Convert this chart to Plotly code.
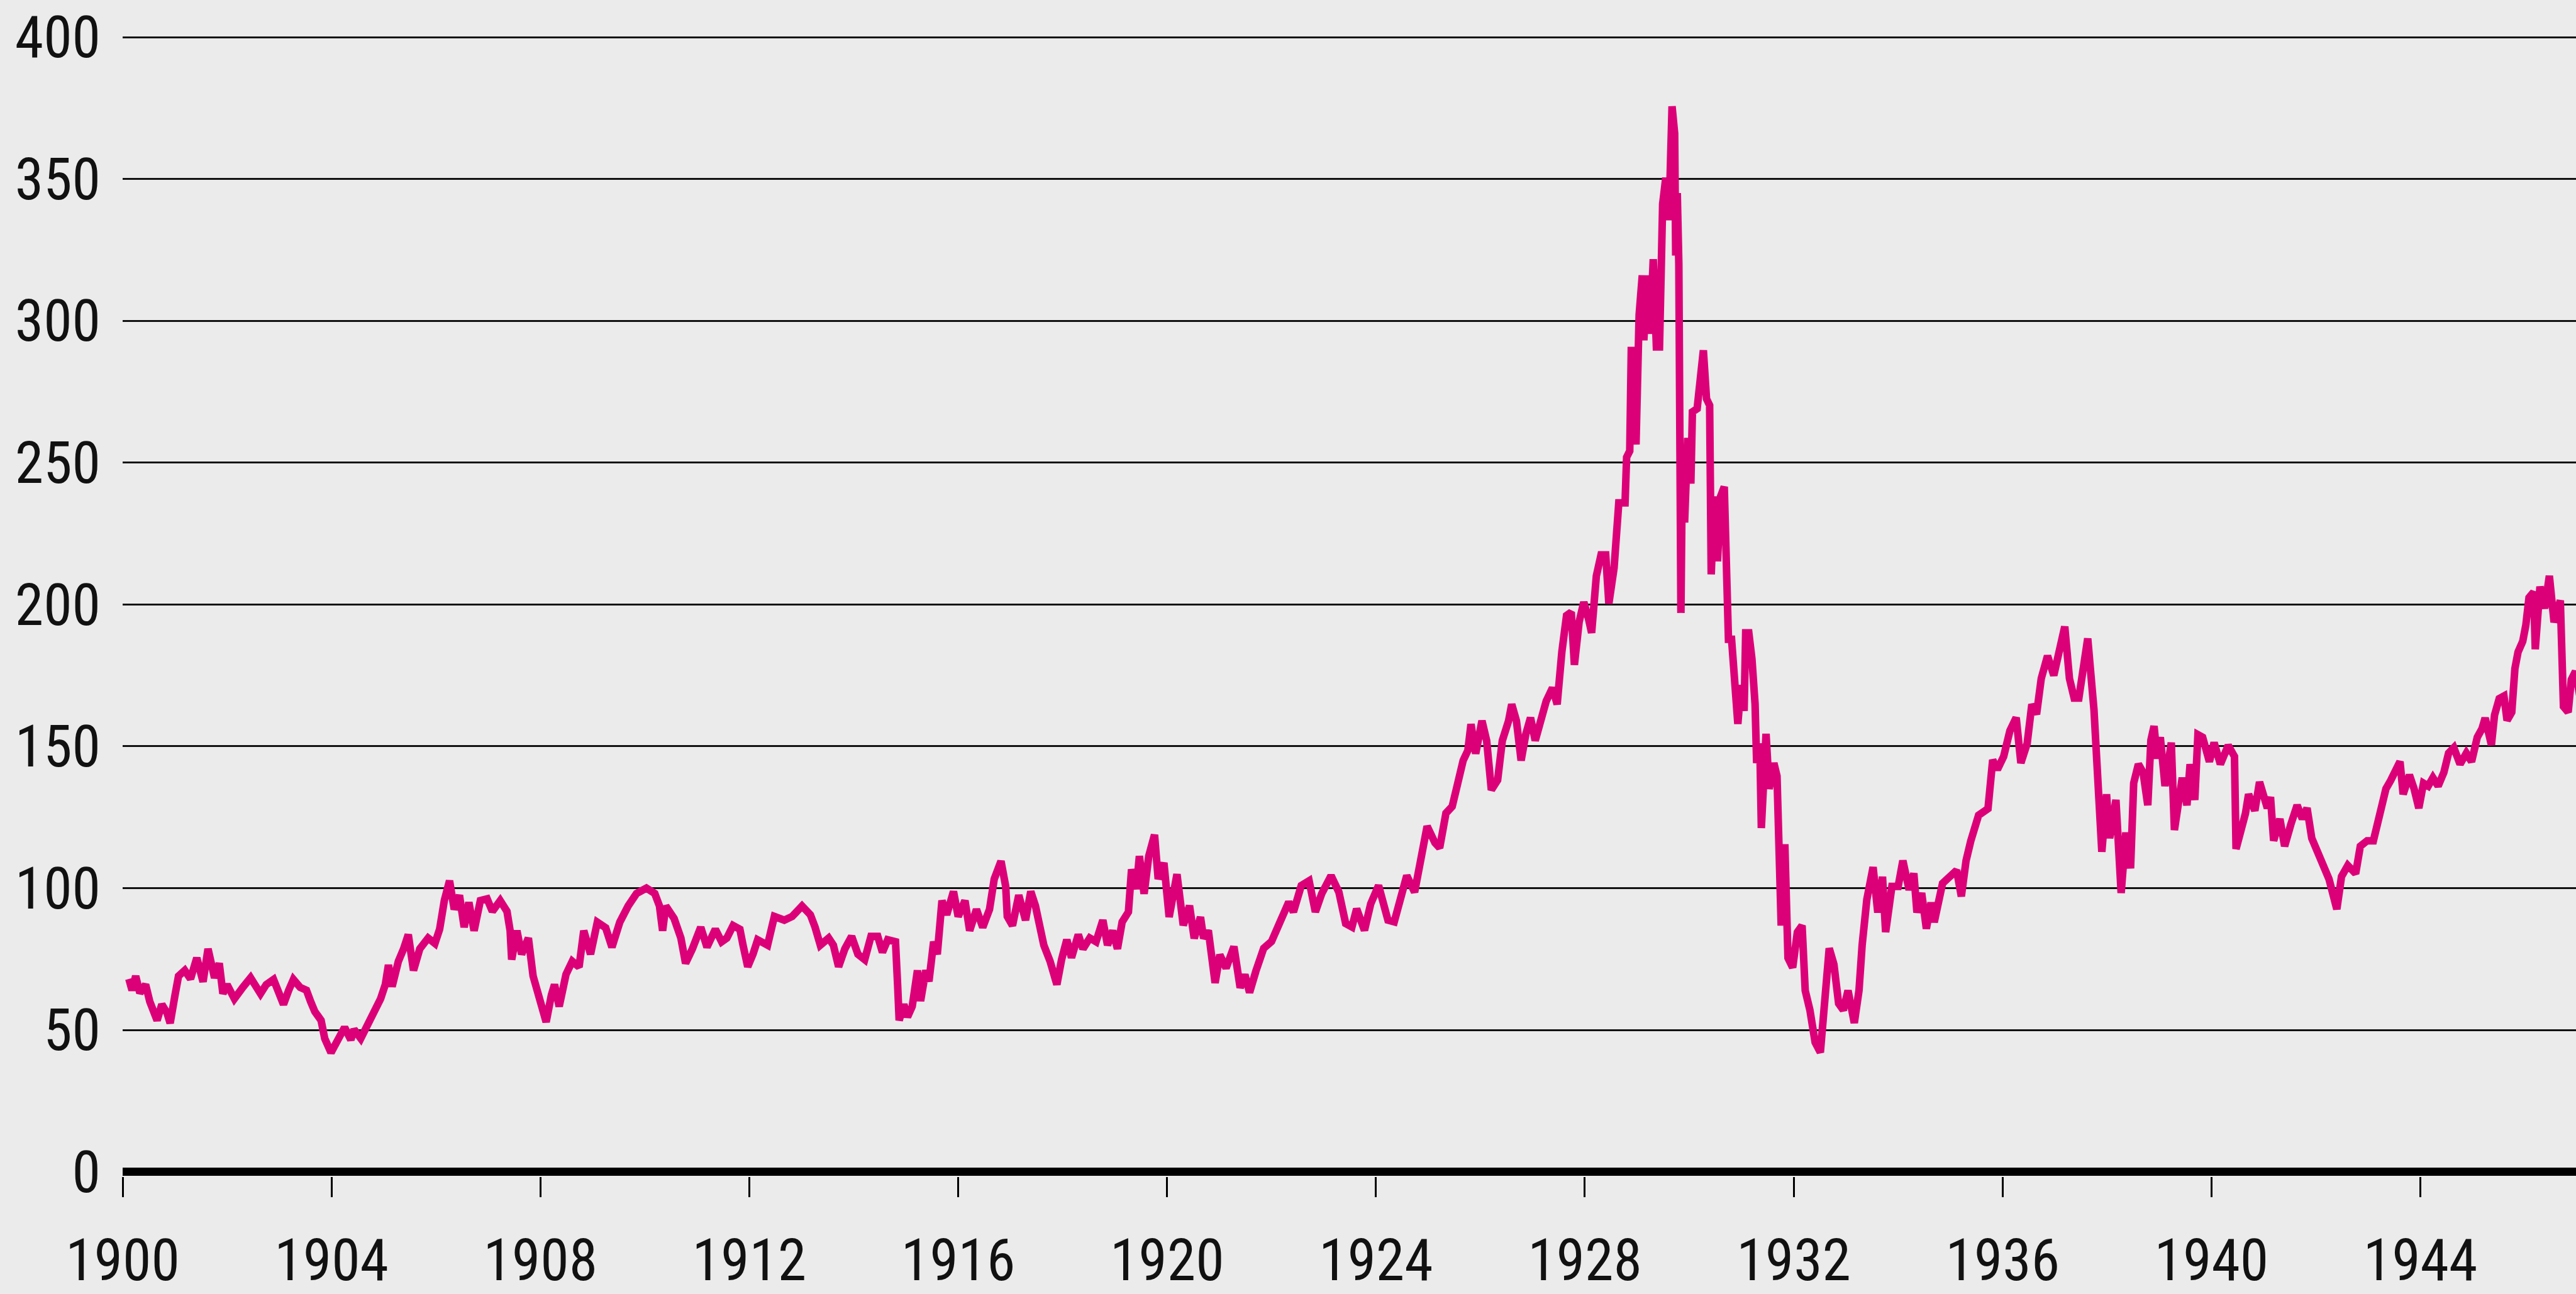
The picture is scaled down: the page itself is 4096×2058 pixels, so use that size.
import subprocess
import plotly.graph_objects as go

# ---- data (decimal year, index level) ----
dates_1900s = [1900.12, 1900.18, 1900.25, 1900.33, 1900.44, 1900.52, 1900.66, 1900.75, 1900.85, 1900.91,
               1901.00, 1901.07, 1901.19, 1901.30, 1901.42, 1901.54, 1901.635, 1901.70, 1901.76, 1901.85,
               1901.92, 1902.00, 1902.14, 1902.30, 1902.45, 1902.64, 1902.75, 1902.89, 1903.00, 1903.08,
               1903.18, 1903.27, 1903.40, 1903.52, 1903.60, 1903.68, 1903.80, 1903.87, 1903.99, 1904.09,
               1904.25, 1904.37, 1904.43, 1904.56, 1904.72, 1904.84, 1904.94, 1905.03, 1905.09, 1905.16,
               1905.28, 1905.38, 1905.47, 1905.57, 1905.69, 1905.85, 1905.98, 1906.07, 1906.16, 1906.26,
               1906.35, 1906.45, 1906.54, 1906.63, 1906.73, 1906.85, 1906.98, 1907.08, 1907.23, 1907.36,
               1907.42, 1907.45, 1907.55, 1907.64, 1907.77, 1907.86, 1907.99, 1908.11, 1908.21, 1908.27,
               1908.36, 1908.49, 1908.61, 1908.74, 1908.83, 1908.96, 1909.09, 1909.25, 1909.37, 1909.52,
               1909.68, 1909.84]
dow_1900s = [68, 64, 69, 63, 66, 60, 53.4, 59, 56, 52.4,
             62, 69, 71, 68, 75.4, 67, 78.6, 72, 68.4, 73.5,
             62.8, 66, 61, 65, 68.4, 62.8, 66, 67.8, 63, 59,
             64, 67.8, 65, 64, 60, 56.5, 53.4, 47, 42, 45,
             50.9, 46.5, 50.2, 47, 52.8, 56.5, 61, 66, 72.9, 65.3,
             74.2, 78.6, 83.6, 71, 78.6, 82.4, 80.5, 85.5, 95.6, 102.6,
             92.5, 97.5, 86.2, 95, 85, 95.6, 96.2, 91.8, 95.6, 91.8,
             85, 74.8, 85, 76.7, 82.4, 69, 61.5, 52.8, 62.3, 66,
             58.3, 69.6, 74.2, 72.2, 85, 76.7, 88, 86, 79.2, 88,
             93.7, 98.1]

dates_1910s = [1910.03, 1910.19, 1910.28, 1910.34, 1910.40, 1910.56, 1910.69, 1910.78, 1910.91,
               1911.07, 1911.19, 1911.35, 1911.47, 1911.57, 1911.69, 1911.82, 1911.88, 1911.97,
               1912.07, 1912.16, 1912.35, 1912.48, 1912.67, 1912.82,
               1913.01, 1913.17, 1913.26, 1913.36, 1913.52, 1913.61, 1913.71, 1913.83, 1913.96,
               1914.08, 1914.21, 1914.33, 1914.46, 1914.55, 1914.65, 1914.80, 1914.84, 1914.87, 1914.96,
               1915.03, 1915.12, 1915.22, 1915.28, 1915.38, 1915.44, 1915.53, 1915.60, 1915.69, 1915.78, 1915.91,
               1916.00, 1916.13, 1916.22, 1916.35, 1916.47, 1916.60, 1916.69, 1916.82, 1916.91, 1916.94,
               1917.04, 1917.16, 1917.29, 1917.39, 1917.48, 1917.57, 1917.64, 1917.76, 1917.89, 1917.98,
               1918.08, 1918.17, 1918.30, 1918.39, 1918.52, 1918.64, 1918.77, 1918.86, 1918.96,
               1919.05, 1919.14, 1919.26, 1919.32, 1919.41, 1919.47, 1919.56, 1919.65, 1919.76, 1919.83, 1919.94]
dow_1910s = [100, 98.1, 93.7, 85, 93.7, 89.3, 82.4, 73.5, 78.6,
             86.2, 79.2, 85.5, 81.1, 82.4, 86.8, 85.5, 79.9, 72.3,
             76.7, 81.8, 79.9, 90, 88.7, 90,
             93.7, 90.6, 86.2, 79.9, 82.4, 79.9, 72.3, 78.6, 83,
             76.7, 74.8, 83, 83, 77.4, 81.8, 81.1, 66, 53.4, 59,
             54.6, 58.3, 71, 60.2, 71, 67.1, 81.1, 76.7, 95.6, 90.6, 98.8,
             90, 95.6, 85, 92.5, 86.2, 92.5, 103.2, 109.5, 100.6, 90,
             86.8, 97.5, 88.7, 98.8, 93.7, 86.2, 79.9, 74.2, 66, 74.8,
             81.8, 75.5, 83.6, 78.6, 82.4, 81.1, 88.7, 79.9, 85,
             78.6, 88.1, 91.6, 106.6, 99.7, 111.3, 98, 111.3, 118.8, 103.2, 108.9]

dates_1920s = [1920.04, 1920.19, 1920.31, 1920.43, 1920.52, 1920.64, 1920.70, 1920.79, 1920.86, 1920.92,
               1921.01, 1921.13, 1921.28, 1921.40, 1921.49, 1921.58, 1921.70, 1921.85,
               1922.00, 1922.18, 1922.33, 1922.42, 1922.57, 1922.72, 1922.84, 1922.96,
               1923.14, 1923.29, 1923.42, 1923.54, 1923.63, 1923.78, 1923.90,
               1924.05, 1924.23, 1924.35, 1924.50, 1924.59, 1924.74, 1924.86, 1924.98,
               1925.13, 1925.22, 1925.34, 1925.46, 1925.55, 1925.67, 1925.76, 1925.82, 1925.91,
               1926.03, 1926.12, 1926.21, 1926.33, 1926.42, 1926.54, 1926.60, 1926.69, 1926.78, 1926.87, 1926.96,
               1927.05, 1927.17, 1927.26, 1927.38, 1927.47, 1927.56, 1927.65, 1927.74, 1927.80, 1927.89, 1927.98,
               1928.07, 1928.13, 1928.22, 1928.31, 1928.40, 1928.46, 1928.56, 1928.65, 1928.77, 1928.80, 1928.86,
               1928.89, 1928.98,
               1929.04, 1929.10, 1929.13, 1929.19, 1929.25, 1929.31, 1929.37, 1929.43, 1929.49, 1929.55, 1929.61,
               1929.67, 1929.72, 1929.74, 1929.77, 1929.80, 1929.82, 1929.84, 1929.86, 1929.88, 1929.91, 1929.97]
dow_1920s = [89.8, 104.9, 86.9, 93.8, 82.3, 89.8, 82.3, 85.1, 73, 66.6,
             76.5, 71.8, 79.4, 64.9, 69.5, 63.2, 70.7, 78.8,
             81.2, 89.3, 95.1, 91.6, 100.9, 102.6, 91.6, 98,
             104.4, 98.6, 87.5, 86.3, 92.7, 85.1, 94.5,
             100.9, 88.7, 88.1, 97.4, 104.4, 98.6, 109.6, 121.8,
             116, 114.2, 126.4, 128.8, 135.7, 145, 148.5, 157.8, 147.4,
             159, 152, 134.6, 138.1, 152, 159, 164.8, 159, 145, 154.3, 160.1,
             152, 160.1, 165.9, 170.6, 164.8, 183.3, 196.1, 197.3, 178.7, 193.8, 200.8,
             195, 190, 210, 217.5, 217.5, 200.3, 212.9, 235.8, 235.8, 251.9, 254.1,
             290.8, 256.4,
             302.2, 316, 293.1, 316, 295.4, 321.7, 290.8, 290.8, 341.2, 350.4, 335.5,
             375.6, 366, 323, 345, 320, 250, 197, 235, 256.4, 228.9, 258.7]

dates_1930s = [1930.03, 1930.06, 1930.15, 1930.21, 1930.27, 1930.33, 1930.39, 1930.42, 1930.48, 1930.54,
               1930.60, 1930.67, 1930.72, 1930.75, 1930.81, 1930.87, 1930.93, 1930.99,
               1931.05, 1931.08, 1931.14, 1931.20, 1931.26, 1931.29, 1931.35, 1931.38, 1931.47, 1931.53,
               1931.62, 1931.68, 1931.71, 1931.76, 1931.83, 1931.89, 1931.98,
               1932.07, 1932.16, 1932.22, 1932.31, 1932.41, 1932.51, 1932.59, 1932.68, 1932.77, 1932.86, 1932.95,
               1933.04, 1933.16, 1933.25, 1933.31, 1933.40, 1933.52, 1933.61, 1933.70, 1933.76, 1933.88,
               1934.00, 1934.09, 1934.21, 1934.30, 1934.36, 1934.45, 1934.54, 1934.63, 1934.69, 1934.85,
               1935.00, 1935.12, 1935.21, 1935.30, 1935.39, 1935.54, 1935.72, 1935.81, 1935.90,
               1936.02, 1936.14, 1936.26, 1936.35, 1936.47, 1936.56, 1936.65, 1936.74, 1936.86, 1936.98,
               1937.10, 1937.19, 1937.28, 1937.37, 1937.46, 1937.55, 1937.63, 1937.75, 1937.81, 1937.87, 1937.90, 1937.99,
               1938.05, 1938.17, 1938.27, 1938.36, 1938.45, 1938.51, 1938.60, 1938.69, 1938.78, 1938.84, 1938.90, 1938.96,
               1939.02, 1939.11, 1939.23, 1939.29, 1939.44, 1939.53, 1939.59, 1939.68, 1939.74, 1939.83, 1939.96]
dow_1930s = [242.6, 267.9, 269, 279.3, 289.6, 272.5, 270.2, 210.6, 238.1, 215.2,
             238.1, 241.5, 210.6, 187.7, 187.7, 170.5, 157.9, 171.6,
             162.5, 190, 190, 180.8, 164.8, 144.1, 151, 121.2, 154.4, 135,
             144.1, 139.5, 114.3, 86.8, 115.5, 75.4, 72,
             84.5, 86.8, 63.9, 57, 45.6, 42.1, 63.9, 78.8, 73.1, 59.3, 57,
             63.9, 52.5, 63.9, 79.9, 96, 107.4, 91.4, 104, 84.5, 100.6,
             100.6, 109.7, 99.4, 105.2, 91.4, 98.3, 85.7, 94.9, 88, 101.7,
             104, 106.3, 97.1, 109.7, 116.6, 125.7, 128, 145.2, 141.8,
             146.4, 155.5, 160.1, 144.1, 151, 164.8, 161.3, 173.9, 181.9, 175,
             186.5, 192.2, 173.9, 167, 167, 180, 188, 162.8, 137.9, 124.4, 112.8, 133.1,
             117.6, 131.1, 98.3, 119.6, 107, 137, 143.7, 140.8, 129.2, 152.2, 157.1, 145.7,
             153.2, 136, 151.3, 120.5, 138.9, 129.2, 143.7, 131.1, 154.1, 153.2, 144.6]

dates_1940s = [1940.05, 1940.17, 1940.32, 1940.44, 1940.47, 1940.56, 1940.65, 1940.71, 1940.83, 1940.92,
               1941.07, 1941.13, 1941.19, 1941.31, 1941.40, 1941.52, 1941.64, 1941.74, 1941.83, 1941.92,
               1942.04, 1942.16, 1942.25, 1942.40, 1942.49, 1942.61, 1942.76, 1942.85, 1942.98,
               1943.10, 1943.19, 1943.28, 1943.34, 1943.43, 1943.52, 1943.61, 1943.67, 1943.79, 1943.88, 1943.97,
               1944.06, 1944.15, 1944.24, 1944.34, 1944.45, 1944.54, 1944.64, 1944.76, 1944.88, 1944.98,
               1945.09, 1945.18, 1945.24, 1945.36, 1945.42, 1945.51, 1945.60, 1945.66, 1945.75, 1945.81, 1945.87, 1945.96,
               1946.02, 1946.08, 1946.17, 1946.20, 1946.29, 1946.38, 1946.47, 1946.56, 1946.68, 1946.71, 1946.74,
               1946.83, 1946.89, 1946.97, 1947.05]
dow_1940s = [151.3, 143.7, 150.3, 146.4, 113.8, 119.6, 126.3, 133.1, 127.3, 137.4,
             128.2, 132.1, 116.7, 124.4, 114.8, 122.5, 129.2, 124.4, 128.2, 117.6,
             112.8, 108, 103.2, 92.6, 104.1, 108, 105.1, 114.8, 116.7,
             116.7, 124.4, 130.2, 135, 137.9, 141.8, 144.6, 133.1, 139.9, 135, 128.2,
             137, 136, 138.9, 136, 140.8, 147.6, 149.5, 143.7, 147.6, 144.6,
             153.2, 156.2, 160, 150.5, 161, 166.8, 167.7, 159.1, 162, 177.4, 183.2, 187,
             192.8, 202.4, 204.4, 184.2, 206.3, 198.6, 210.1, 193.7, 201.4, 177.4, 164,
             162, 173.5, 176.4, 168]

tick_years = [1900, 1904, 1908, 1912, 1916, 1920, 1924, 1928, 1932, 1936, 1940, 1944]
tick_labels = ["1900", "1904", "1908", "1912", "1916", "1920", "1924", "1928", "1932", "1936", "1940", "1944"]
y_ticks = [0, 50, 100, 150, 200, 250, 300, 350, 400]
y_labels = ["0", "50", "100", "150", "200", "250", "300", "350", "400"]

dates = dates_1900s + dates_1910s + dates_1920s + dates_1930s + dates_1940s
dow = dow_1900s + dow_1910s + dow_1920s + dow_1930s + dow_1940s


# ---- pick the narrowest suitable installed font (reference uses a narrow grotesque) ----
def installed_families():
    try:
        out = subprocess.run(["fc-list", "--format", "%{family}\n"],
                             capture_output=True, text=True, timeout=20).stdout
    except Exception:
        return set()
    fams = set()
    for line in out.splitlines():
        for name in line.split(","):
            fams.add(name.strip())
    return fams


FAMS = installed_families()
CANDIDATES = [
    ("Liberation Sans Narrow", 97),
    ("Arial Narrow", 97),
    ("Nimbus Sans Narrow", 97),
    ("Noto Sans Condensed", 96),
    ("Roboto Condensed", 92),
    ("Open Sans Condensed", 94),
]
font_family, font_size = "Liberation Sans", 86
for name, size in CANDIDATES:
    if name in FAMS:
        font_family, font_size = name, size
        break

BG = "#ebebeb"
FONT = dict(family=font_family + ", Liberation Sans, Arial, sans-serif", size=font_size, color="#111111")

fig = go.Figure()
fig.add_trace(go.Scatter(x=dates, y=dow, mode="lines",
                         line=dict(color="#dc0078", width=12),
                         hoverinfo="skip", showlegend=False))

fig.update_layout(
    width=4096, height=2058, autosize=False,
    margin=dict(l=195, r=0, t=50, b=150, pad=0),
    paper_bgcolor=BG, plot_bgcolor=BG,
    font=FONT, showlegend=False,
)
fig.update_xaxes(
    type="linear", range=[1900, 1946.98],
    tickmode="array", tickvals=tick_years, ticktext=tick_labels,
    ticks="outside", ticklen=32, tickwidth=2.5, tickcolor="#000000",
    showgrid=False, zeroline=False, showline=False,
    tickfont=FONT, ticklabelstandoff=22,
)
fig.update_yaxes(
    range=[-1.63, 402],
    tickmode="array", tickvals=y_ticks, ticktext=y_labels,
    ticks="", showgrid=True, gridcolor="#111111", gridwidth=2.5,
    zeroline=True, zerolinecolor="#000000", zerolinewidth=13,
    showline=False, tickfont=FONT, ticklabelstandoff=34,
)

fig.write_html("out.html", config={"displayModeBar": False},
               post_script="document.body.style.margin='0';document.body.style.overflow='hidden';")
